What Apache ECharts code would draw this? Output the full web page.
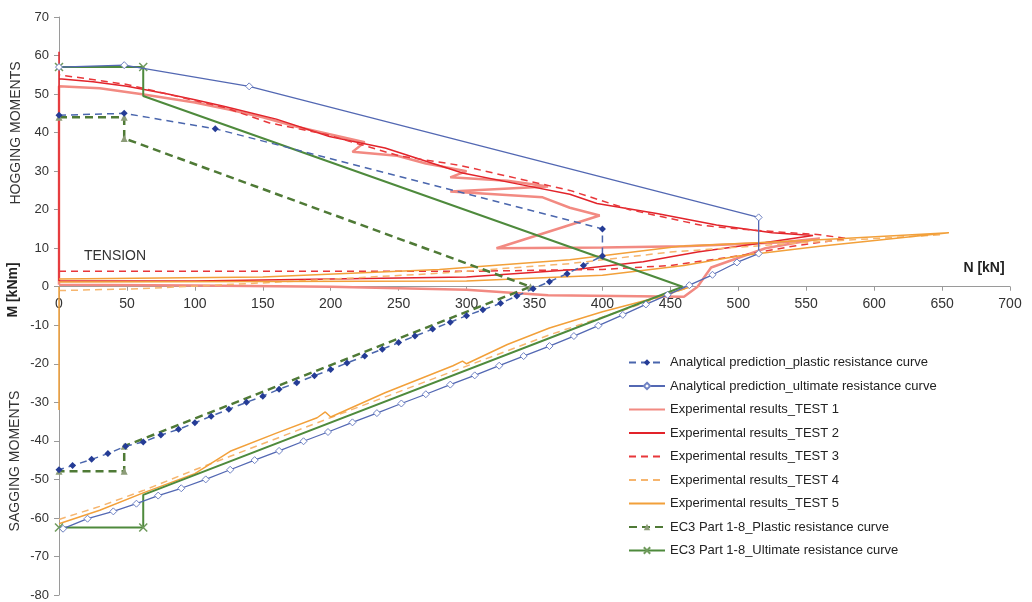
<!DOCTYPE html>
<html><head><meta charset="utf-8">
<script src="https://cdn.jsdelivr.net/npm/echarts@6/dist/echarts.min.js"></script>
<style>html,body{margin:0;padding:0;background:#fff}#c{width:1032px;height:602px}</style>
</head><body><div id="c"></div>
<script>
// ---- data (N [kN], M [kNm]) ----
const seriesNames = [
  'Analytical prediction_plastic resistance curve',
  'Analytical prediction_ultimate resistance curve',
  'Experimental results_TEST 1',
  'Experimental results_TEST 2',
  'Experimental results_TEST 3',
  'Experimental results_TEST 4',
  'Experimental results_TEST 5',
  'EC3 Part 1-8_Plastic resistance curve',
  'EC3 Part 1-8_Ultimate resistance curve'
];
const anPlastic = [[0,44.5],[48,45],[115,41],[400,15],[400,8],[386,5.5],[374,3.4],[361,1.3],[349,-0.5],[337,-2.4],[325,-4.3],[312,-6.0],[300,-7.5],[288,-9.2],[275,-11.0],[262,-12.8],[250,-14.5],[238,-16.2],[225,-18.0],[212,-19.8],[200,-21.5],[188,-23.1],[175,-24.9],[162,-26.6],[150,-28.4],[138,-30.0],[125,-31.8],[112,-33.6],[100,-35.3],[88,-37.0],[75,-38.5],[62,-40.3],[49,-41.4],[36,-43.3],[24,-44.8],[10,-46.4],[0,-47.5]];
const anUltimate = [[0,57],[48,57.5],[140,52],[515,18],[515,8.6],[499,6.3],[481,3.1],[464,0.4],[448,-2.1],[432,-4.6],[415,-7.3],[397,-10.1],[379,-12.8],[361,-15.4],[342,-18.0],[324,-20.5],[306,-23.0],[288,-25.4],[270,-27.9],[252,-30.3],[234,-32.8],[216,-35.2],[198,-37.7],[180,-40.1],[162,-42.6],[144,-45.0],[126,-47.5],[108,-50.0],[90,-52.3],[73,-54.2],[57,-56.3],[40,-58.3],[21,-60.2],[3,-62.8]];
const test1 = [[0,0.5],[0,52],[30,51.5],[60,50],[100,47.8],[125,46],[150,44],[175,41.5],[200,39.5],[225,37.5],[216,35],[249,34],[270,32],[300,30],[288,28.4],[330,27.5],[360,26],[288,24.7],[356,23.2],[376,20.5],[398,18.5],[322,10],[400,10.2],[460,10.5],[530,11.5],[560,12.5],[520,10],[480,5],[470,0],[460,-2.6],[360,-2.2],[300,-0.8],[200,0],[100,0.3],[0,0.5]];
const test2 = [[0,1.5],[0,61],[0,54],[25,53.2],[50,52],[80,50],[100,48.5],[122,46.8],[160,43.5],[199,39],[240,36],[297,29.5],[340,26.5],[376,24],[396,21.6],[440,19],[484,16],[525,14],[555,13.3],[520,11.5],[470,9],[430,6.5],[380,4.5],[300,2.5],[200,2],[100,1.5],[0,1.5]];
const test3 = [[0,4],[100,4],[200,4],[300,4],[400,4.5],[450,5.5],[500,8],[540,10.5],[580,12.5],[560,13.5],[538,14],[500,15],[472,16],[420,20],[376,25],[295,31.5],[250,34],[197,39.5],[155,42.5],[122,46.5],[100,48.3],[50,52.5],[0,55]];
const test4Pos = [[0,-1],[60,-0.5],[150,1],[280,3.5],[376,6],[450,9],[550,11.5],[650,13.5]];
const test4Neg = [[0,-60.4],[30,-57],[62,-52.9],[100,-47.5],[126,-44],[196,-34.5],[297,-21],[361,-12.5],[420,-5.5],[465,0]];
const test5Pos = [[0,2],[150,2.5],[280,4.5],[376,7],[457,10.5],[550,12],[655,14],[560,10.5],[500,8],[460,5.5],[400,3],[300,1.5],[0,1.2]];
const test5Neg = [[0,-61.5],[30,-58],[62,-53.5],[100,-48.5],[126,-42.7],[160,-38],[190,-34],[196,-32.5],[200,-33.8],[240,-27.5],[290,-20.5],[297,-19.3],[300,-20],[330,-15],[361,-10.7],[400,-6.5],[440,-2.8],[465,0]];
const test5Axis = [[0,0],[0,-32]];
const ec3Plastic = [[0,44],[48,44],[48,38.5],[347,0],[48,-41.4],[48,-47.9],[0,-47.9]];
const ec3Ultimate = [[0,57],[62,57],[62,49.5],[459,0],[62,-54],[62,-62.5],[0,-62.5]];
const ec3UltimateMarked = [0,1,5,6];
const xMin = 0, xMax = 700, xStep = 50;
const yMin = -80, yMax = 70, yStep = 10;

const FONT = 'Liberation Sans, Arial, sans-serif';
const chart = echarts.init(document.getElementById('c'), null, {renderer:'canvas'});

const gridTop = 17, gridBottom = 7, H = 602;
const plotH = H - gridTop - gridBottom;
const zeroFromBottom = plotH * (0 - yMin) / (yMax - yMin);

function testLine(name, data, color, width, type){
  return {name, type:'line', data, symbol:'none', showSymbol:false, silent:true,
    lineStyle:{color, width, type}, itemStyle:{color}, z:2, animation:false};
}
const testNames = seriesNames.slice(2,7);

const option = {
  animation:false,
  backgroundColor:'#fff',
  grid:{left:59, right:22, top:gridTop, bottom:gridBottom, outerBoundsMode:'none', containLabel:false},
  xAxis:[
    {type:'value', min:xMin, max:xMax, interval:xStep,
      axisLine:{onZero:true, lineStyle:{color:'#9a9a9a', width:1}},
      axisTick:{show:true, length:4, lineStyle:{color:'#9a9a9a'}},
      axisLabel:{show:false},
      splitLine:{show:false}},
    {type:'value', min:xMin, max:xMax, interval:xStep, position:'bottom',
      offset:-zeroFromBottom,
      axisLine:{show:false, onZero:false}, axisTick:{show:false},
      axisLabel:{margin:10, color:'#333', fontSize:14, fontFamily:FONT},
      splitLine:{show:false}}
  ],
  yAxis:{type:'value', min:yMin, max:yMax, interval:yStep,
    axisLine:{show:true, onZero:false, lineStyle:{color:'#9a9a9a', width:1}},
    axisTick:{show:true, length:5, lineStyle:{color:'#9a9a9a'}},
    axisLabel:{margin:10, color:'#333', fontSize:13, fontFamily:FONT},
    splitLine:{show:false}},
  legend:{orient:'vertical', left:623, top:351, itemWidth:36, itemHeight:8, itemGap:10.5,
    selectedMode:false,
    data:seriesNames.map(n => testNames.includes(n) ? {name:n, itemStyle:{opacity:0}} : n),
    textStyle:{fontSize:13, color:'#222', fontFamily:FONT}},
  graphic:[
    {type:'text', x:984, y:268, style:{text:'N [kN]', font:'bold 14px '+FONT, fill:'#222', textAlign:'center', textVerticalAlign:'middle'}},
    {type:'text', x:13, y:290, rotation:Math.PI/2, style:{text:'M [kNm]', font:'bold 14px '+FONT, fill:'#222', textAlign:'center', textVerticalAlign:'middle'}},
    {type:'text', x:16, y:133, rotation:Math.PI/2, style:{text:'HOGGING MOMENTS', font:'14px '+FONT, fill:'#333', textAlign:'center', textVerticalAlign:'middle'}},
    {type:'text', x:15, y:461, rotation:Math.PI/2, style:{text:'SAGGING MOMENTS', font:'14px '+FONT, fill:'#333', textAlign:'center', textVerticalAlign:'middle'}},
    {type:'text', x:115, y:256, style:{text:'TENSION', font:'14px '+FONT, fill:'#333', textAlign:'center', textVerticalAlign:'middle'}}
  ],
  series:[
    testLine(seriesNames[2], test1, '#f28a82', 2.5, 'solid'),
    testLine(seriesNames[3], test2, '#e2232a', 1.5, 'solid'),
    testLine(seriesNames[4], test3, '#e8373a', 1.5, [7,5]),
    testLine(seriesNames[5], test4Pos, '#f6b56e', 1.5, [7,5]),
    testLine(seriesNames[5], test4Neg, '#f6b56e', 1.5, [7,5]),
    testLine(seriesNames[6], test5Pos, '#f2a03a', 1.5, 'solid'),
    testLine(seriesNames[6], test5Neg, '#f2a03a', 1.5, 'solid'),
    testLine(seriesNames[6], test5Axis, '#f2a03a', 1.5, 'solid'),
    {name:seriesNames[7], type:'line', data:ec3Plastic, symbol:'triangle', symbolSize:7, showAllSymbol:true,
      lineStyle:{color:'#4f7a36', width:2.5, type:[8,5]}, itemStyle:{color:'#8c9c78'}, z:3, silent:true},
    {name:seriesNames[8], type:'line',
      data:ec3Ultimate.map((p,i)=> ec3UltimateMarked.includes(i) ? p : {value:p, symbol:'none'}),
      symbol:'path://M0,0L10,10M10,0L0,10', symbolSize:8, showAllSymbol:true,
      lineStyle:{color:'#4e8a3c', width:2}, itemStyle:{color:'#4e8a3c', borderColor:'#6f9a5c', borderWidth:1.5}, z:3, silent:true},
    {name:seriesNames[0], type:'line', data:anPlastic, symbol:'diamond', symbolSize:7, showAllSymbol:true,
      lineStyle:{color:'#4a66ad', width:1.5, type:[7,5]}, itemStyle:{color:'#253c96'}, z:4, silent:true},
    {name:seriesNames[1], type:'line', data:anUltimate, symbol:'diamond', symbolSize:7, showAllSymbol:true,
      lineStyle:{color:'#5368b3', width:1.3}, itemStyle:{color:'#ffffff', borderColor:'#7083c4', borderWidth:1}, z:4, silent:true}
  ]
};
chart.setOption(option);
</script></body></html>
